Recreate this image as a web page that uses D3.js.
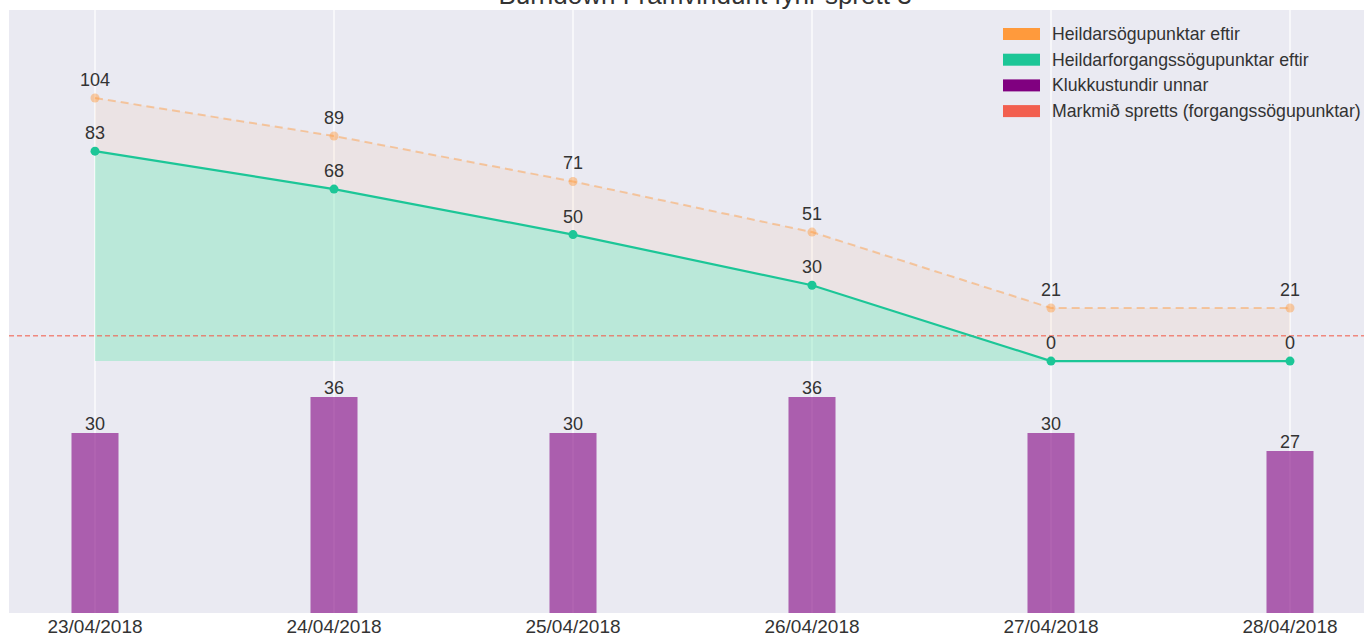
<!DOCTYPE html>
<html>
<head>
<meta charset="utf-8">
<script src="https://cdn.jsdelivr.net/npm/d3@7"></script>
<style>
  body { margin: 0; background: #fff; }
  text { font-family: "Liberation Sans", Arial, sans-serif; fill: #333; }
</style>
</head>
<body>
<div class="chart"></div>
<script>
var DATES = ['23/04/2018', '24/04/2018', '25/04/2018', '26/04/2018', '27/04/2018', '28/04/2018'];
var TOTAL_POINTS = [104, 89, 71, 51, 21, 21];
var PRIORITY_POINTS = [83, 68, 50, 30, 0, 0];
var HOURS = [30, 36, 30, 36, 30, 27];
var SPRINT_GOAL = 10;
var LEGEND_LABELS = [
  'Heildarsögupunktar eftir',
  'Heildarforgangssögupunktar eftir',
  'Klukkustundir unnar',
  'Markmið spretts (forgangssögupunktar)'
];

var W = 1364, H = 637;
var plot = {left: 9, top: 10, right: 1364, bottom: 613};

var COLORS = {
  total: '#ff9a3c',
  priority: '#1cc697',
  priorityFill: '#3df5bd',
  hours: '#800080',
  goal: '#f25f4f'
};

var svg = d3.select('.chart').append('svg')
  .attr('width', W)
  .attr('height', H);

// background
svg.append('rect')
  .attr('x', plot.left).attr('y', plot.top)
  .attr('width', plot.right - plot.left)
  .attr('height', plot.bottom - plot.top)
  .attr('fill', '#eaeaf2');

var x = d3.scalePoint().domain(DATES).range([95, 1290]);
var yLine = d3.scaleLinear().domain([-99.6, 138.8]).range([plot.bottom, plot.top]);
var yBar = d3.scaleLinear().domain([0, 100.5]).range([plot.bottom, plot.top]);

// vertical grid
svg.append('g')
  .selectAll('line')
  .data(DATES)
  .enter().append('line')
  .attr('x1', function(d) { return x(d); })
  .attr('x2', function(d) { return x(d); })
  .attr('y1', plot.top).attr('y2', plot.bottom)
  .attr('stroke', '#fff')
  .attr('stroke-width', 1.2);

// bars (hours)
var barW = 47;
svg.append('g')
  .selectAll('rect')
  .data(HOURS)
  .enter().append('rect')
  .attr('x', function(d, i) { return x(DATES[i]) - barW / 2; })
  .attr('y', function(d) { return yBar(d); })
  .attr('width', barW)
  .attr('height', function(d) { return yBar(0) - yBar(d); })
  .attr('fill', COLORS.hours)
  .attr('fill-opacity', 0.6);

svg.append('g')
  .selectAll('text')
  .data(HOURS)
  .enter().append('text')
  .attr('x', function(d, i) { return x(DATES[i]); })
  .attr('y', function(d) { return yBar(d) - 3; })
  .attr('text-anchor', 'middle')
  .style('font-size', '18px')
  .text(function(d) { return d; });

// areas
var area = function(vals) {
  return d3.area()
    .x(function(d, i) { return x(DATES[i]); })
    .y0(yLine(0))
    .y1(function(d) { return yLine(d); })(vals);
};

svg.append('path')
  .attr('d', area(TOTAL_POINTS))
  .attr('fill', COLORS.total)
  .attr('fill-opacity', 0.08);

svg.append('path')
  .attr('d', area(PRIORITY_POINTS))
  .attr('fill', COLORS.priorityFill)
  .attr('fill-opacity', 0.28);

// goal line
svg.append('line')
  .attr('x1', plot.left).attr('x2', plot.right)
  .attr('y1', yLine(SPRINT_GOAL)).attr('y2', yLine(SPRINT_GOAL))
  .attr('stroke', COLORS.goal)
  .attr('stroke-opacity', 0.7)
  .attr('stroke-width', 1.5)
  .attr('stroke-dasharray', '5,3');

var line = d3.line()
  .x(function(d, i) { return x(DATES[i]); })
  .y(function(d) { return yLine(d); });

// total points (dashed)
svg.append('path')
  .attr('d', line(TOTAL_POINTS))
  .attr('fill', 'none')
  .attr('stroke', COLORS.total)
  .attr('stroke-opacity', 0.45)
  .attr('stroke-width', 2)
  .attr('stroke-dasharray', '8,5');

svg.append('g')
  .selectAll('circle')
  .data(TOTAL_POINTS)
  .enter().append('circle')
  .attr('cx', function(d, i) { return x(DATES[i]); })
  .attr('cy', function(d) { return yLine(d); })
  .attr('r', 4.5)
  .attr('fill', COLORS.total)
  .attr('fill-opacity', 0.45);

// priority points
svg.append('path')
  .attr('d', line(PRIORITY_POINTS))
  .attr('fill', 'none')
  .attr('stroke', COLORS.priority)
  .attr('stroke-width', 2.2);

svg.append('g')
  .selectAll('circle')
  .data(PRIORITY_POINTS)
  .enter().append('circle')
  .attr('cx', function(d, i) { return x(DATES[i]); })
  .attr('cy', function(d) { return yLine(d); })
  .attr('r', 4.5)
  .attr('fill', COLORS.priority);

// point labels
[TOTAL_POINTS, PRIORITY_POINTS].forEach(function(vals) {
  svg.append('g')
    .selectAll('text')
    .data(vals)
    .enter().append('text')
    .attr('x', function(d, i) { return x(DATES[i]); })
    .attr('y', function(d) { return yLine(d) - 12; })
    .attr('text-anchor', 'middle')
    .style('font-size', '18px')
    .text(function(d) { return d; });
});

// x labels
svg.append('g')
  .selectAll('text')
  .data(DATES)
  .enter().append('text')
  .attr('x', function(d) { return x(d); })
  .attr('y', 633)
  .attr('text-anchor', 'middle')
  .style('font-size', '19px')
  .text(function(d) { return d; });

// title (clipped at top, as in the original)
svg.append('text')
  .attr('x', 705)
  .attr('y', 4)
  .attr('text-anchor', 'middle')
  .style('font-size', '26px')
  .text('Burndown Framvindurit fyrir sprett 3');

// legend
var legendColors = [COLORS.total, COLORS.priority, COLORS.hours, COLORS.goal];
var legend = svg.append('g')
  .selectAll('g')
  .data(LEGEND_LABELS)
  .enter().append('g')
  .attr('transform', function(d, i) { return 'translate(1003,' + (28 + i * 25.7) + ')'; });

legend.append('rect')
  .attr('width', 37)
  .attr('height', 12)
  .attr('fill', function(d, i) { return legendColors[i]; });

legend.append('text')
  .attr('x', 49)
  .attr('y', 12)
  .style('font-size', '17.7px')
  .text(function(d) { return d; });
</script>
</body>
</html>
